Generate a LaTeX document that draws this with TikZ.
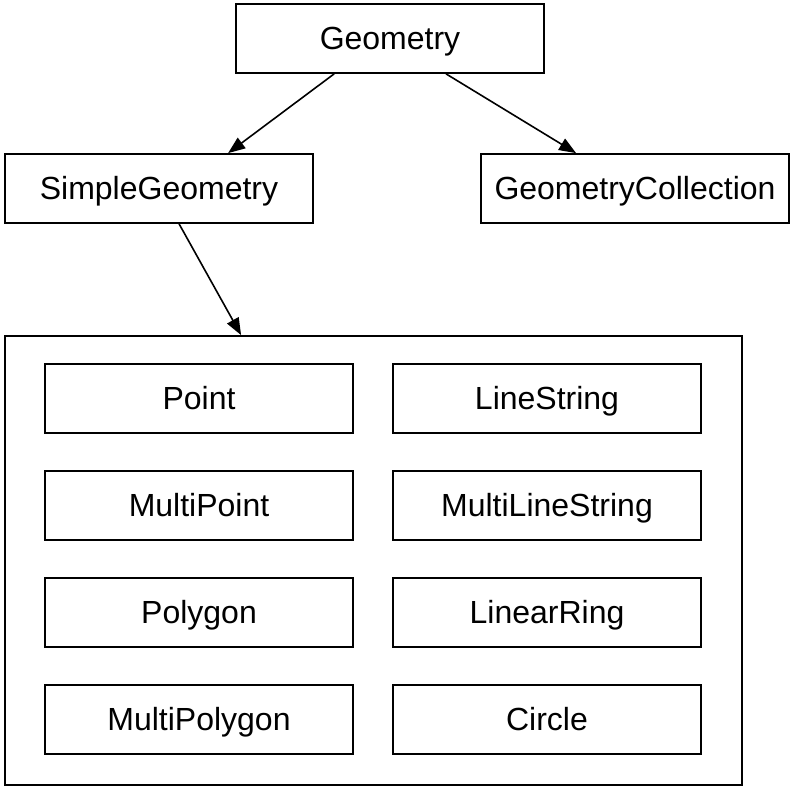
\documentclass[tikz,border=0pt]{standalone}
\usepackage{fontspec}
\setmainfont{Liberation Sans}
\usetikzlibrary{arrows.meta,calc}

\tikzset{
    cls/.style={draw, line width=1.8pt, minimum width=308pt, minimum height=69pt, inner sep=0pt,
        text height=22.9pt, text depth=0pt, font=\fontsize{32}{38}\selectfont},
    link/.style={line width=1.6pt, -{Triangle[length=17pt,width=13pt]}}
}

\begin{document}
\begin{tikzpicture}[x=1pt,y=-1pt]
            \useasboundingbox (0,0) rectangle (794,790);
            \node[cls] at (390,38.5) (geom) {Geometry};
            \node[cls] at (159,188.5) (simple) {SimpleGeometry};
            \node[cls] at (635,188.5) (coll) {GeometryCollection};
            \node[draw, line width=1.8pt, minimum width=737pt, minimum height=449pt, inner sep=0pt] at (373.5,560.5) (group) {};
            \foreach \name/\txt/\x/\y in {pt/Point/199/398.5, ls/LineString/547/398.5,
                mpt/MultiPoint/199/505.5, mls/MultiLineString/547/505.5,
                pg/Polygon/199/612.5, lr/LinearRing/547/612.5,
                mpg/MultiPolygon/199/719.5, ci/Circle/547/719.5}
            \node[cls] at (\x,\y) (\name) {\txt};
            \draw[link] ([xshift=99pt]geom.south west) -- ([xshift=224pt]simple.north west);
            \draw[link] ([xshift=211pt]geom.south west) -- ([xshift=96pt]coll.north west);
            \draw[link] ([xshift=175pt]simple.south west) -- ([xshift=237pt]group.north west);
        \end{tikzpicture}
\end{document}
